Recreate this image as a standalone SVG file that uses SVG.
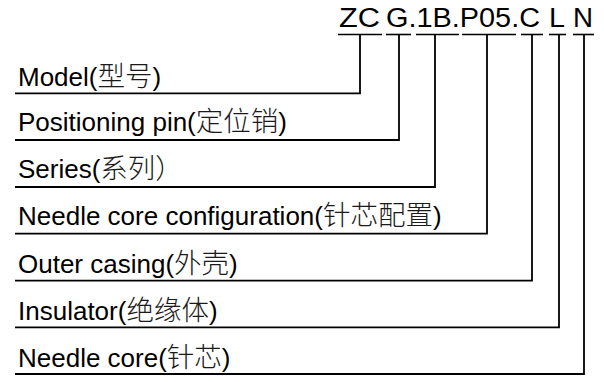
<svg xmlns="http://www.w3.org/2000/svg" width="604" height="382" viewBox="0 0 604 382">
<style>
text{font-family:"Liberation Sans",Arial,"Noto Sans CJK SC",sans-serif;fill:#000}
.lbl{font-size:26px}
.cjk{font-family:"Noto Sans CJK SC","Noto Sans CJK TC",sans-serif;font-size:27.5px;font-weight:300;fill:#1a1a1a}
.code{font-size:27px}
.ln{stroke:#000;stroke-width:1.8;fill:none}
.ul{stroke:#000;stroke-width:1.6}
</style>
<rect width="604" height="382" fill="#fff"/>
<g id="code">
<text class="code" x="339" y="26.5" textLength="41" lengthAdjust="spacingAndGlyphs">ZC</text>
<text class="code" x="386" y="26.5" textLength="154" lengthAdjust="spacingAndGlyphs">G.1B.P05.C</text>
<text class="code" x="549" y="26.5" textLength="16" lengthAdjust="spacingAndGlyphs">L</text>
<text class="code" x="573" y="26.5" textLength="20" lengthAdjust="spacingAndGlyphs">N</text>
<line class="ul" x1="338" y1="34.5" x2="382" y2="34.5"/>
<line class="ul" x1="386" y1="34.5" x2="411" y2="34.5"/>
<line class="ul" x1="416" y1="34.5" x2="459" y2="34.5"/>
<line class="ul" x1="462" y1="34.5" x2="516" y2="34.5"/>
<line class="ul" x1="521" y1="34.5" x2="543" y2="34.5"/>
<line class="ul" x1="549" y1="34.5" x2="566" y2="34.5"/>
<line class="ul" x1="573" y1="34.5" x2="594" y2="34.5"/>
</g>
<g id="n1"><text class="lbl" x="18" y="85.5">Model(<tspan class="cjk">型号</tspan>)</text></g>
<g id="n2"><text class="lbl" x="18" y="131">Positioning pin(<tspan class="cjk">定位销</tspan>)</text></g>
<g id="n3"><text class="lbl" x="18" y="178">Series(<tspan class="cjk">系列）</tspan></text></g>
<g id="n4"><text class="lbl" x="18" y="224.5">Needle core configuration(<tspan class="cjk">针芯配置</tspan>)</text></g>
<g id="n5"><text class="lbl" x="18" y="272.5">Outer casing(<tspan class="cjk">外壳</tspan>)</text></g>
<g id="n6"><text class="lbl" x="18" y="319.5">Insulator(<tspan class="cjk">绝缘体</tspan>)</text></g>
<g id="n7"><text class="lbl" x="18" y="366.5">Needle core(<tspan class="cjk">针芯</tspan>)</text></g>
<g id="connectors">
<polyline class="ln" points="360,34.5 360,93.3 15,93.3"/>
<polyline class="ln" points="399,34.5 399,140 15,140"/>
<polyline class="ln" points="435,34.5 435,187 15,187"/>
<polyline class="ln" points="487,34.5 487,233.7 15,233.7"/>
<polyline class="ln" points="532,34.5 532,280.7 15,280.7"/>
<polyline class="ln" points="559,34.5 559,327.3 15,327.3"/>
<polyline class="ln" points="584,34.5 584,374 15,374"/>
</g>
</svg>
